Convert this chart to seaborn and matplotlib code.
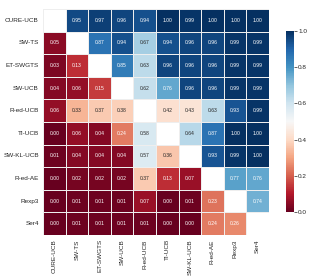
import numpy as np
import pandas as pd
import matplotlib
matplotlib.use("Agg")
import matplotlib.pyplot as plt
import seaborn as sns

labels = ["CURE-UCB", "SW-TS", "ET-SWGTS", "SW-UCB", "R-ed-UCB",
          "TI-UCB", "SW-KL-UCB", "R-ed-AE", "Rexp3", "Ser4"]

upper_rows = [
    [0.95, 0.97, 0.96, 0.94, 1.00, 0.99, 1.00, 1.00, 1.00],
    [0.87, 0.94, 0.67, 0.94, 0.96, 0.96, 0.99, 0.99],
    [0.85, 0.63, 0.96, 0.96, 0.96, 0.99, 0.99],
    [0.62, 0.76, 0.96, 0.96, 0.99, 0.99],
    [0.42, 0.43, 0.63, 0.93, 0.99],
    [0.64, 0.87, 1.00, 1.00],
    [0.93, 0.99, 1.00],
    [0.77, 0.76],
    [0.74],
]

lower_rows = [
    [0.05],
    [0.03, 0.13],
    [0.04, 0.06, 0.15],
    [0.06, 0.33, 0.37, 0.38],
    [0.00, 0.06, 0.04, 0.24, 0.58],
    [0.01, 0.04, 0.04, 0.04, 0.57, 0.36],
    [0.00, 0.02, 0.02, 0.02, 0.37, 0.13, 0.07],
    [0.00, 0.01, 0.01, 0.01, 0.07, 0.00, 0.01, 0.23],
    [0.00, 0.01, 0.01, 0.01, 0.01, 0.00, 0.00, 0.24, 0.26],
]

n = len(labels)
mat = np.full((n, n), np.nan)
for i, row in enumerate(upper_rows):
    for k, v in enumerate(row):
        mat[i, i + 1 + k] = v
for i, row in enumerate(lower_rows):
    for k, v in enumerate(row):
        mat[i + 1, k] = v

df = pd.DataFrame(mat, index=labels, columns=labels)

sns.set_theme(style="white")
plt.rcParams['font.family'] = ['Liberation Sans', 'DejaVu Sans']

fig = plt.figure(figsize=(3.09, 2.78), dpi=100)
ax = fig.add_axes([43 / 309, 1 - 235 / 278, 226 / 309, 226 / 278])
cax = fig.add_axes([285.5 / 309, 1 - 212 / 278, 8.5 / 309, 181 / 278])

sns.heatmap(df, ax=ax, cbar_ax=cax, cmap="RdBu", vmin=0, vmax=1,
            annot=True, fmt=".2f", annot_kws={"fontsize": 3.6},
            linewidths=0.6, linecolor="#eeeeee")

ax.tick_params(axis="both", length=0, labelsize=4.6, pad=3)
ax.set_xticklabels(labels, rotation=90)
ax.set_yticklabels(labels, rotation=0)
ax.set_xlabel("")
ax.set_ylabel("")

cax.tick_params(labelsize=4.6, length=2, width=0.5, pad=1)
cax.set_yticks([0.0, 0.2, 0.4, 0.6, 0.8, 1.0])
cax.set_yticklabels(["0.0", "0.2", "0.4", "0.6", "0.8", "1.0"])

fig.savefig("out.png", dpi=100)
